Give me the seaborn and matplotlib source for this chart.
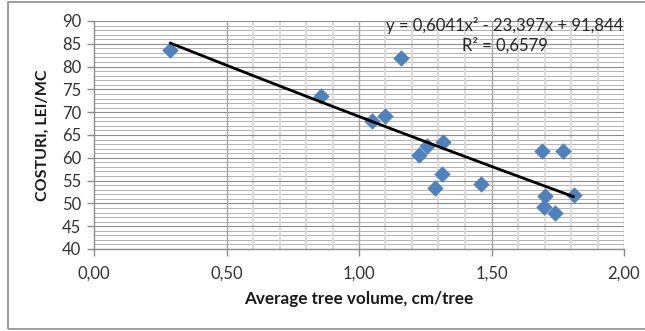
import numpy as np
import pandas as pd
import matplotlib
matplotlib.use("Agg")
import matplotlib.pyplot as plt
import seaborn as sns
from matplotlib.patches import Rectangle

# Data
volume = [0.287, 0.857, 1.158, 1.049, 1.098, 1.256, 1.227, 1.317, 1.690, 1.770,
          1.313, 1.287, 1.460, 1.700, 1.698, 1.740, 1.810]
cost = [83.6, 73.6, 81.9, 68.1, 69.2, 62.6, 60.6, 63.5, 61.5, 61.5,
        56.4, 53.4, 54.3, 51.6, 49.2, 47.9, 51.8]
trend_coef = [0.6041, -23.397, 91.844]
r_squared = "0,6579"
x_ticks = [0.0, 0.5, 1.0, 1.5, 2.0]
x_tick_labels = ["0,00", "0,50", "1,00", "1,50", "2,00"]
y_ticks = [40, 45, 50, 55, 60, 65, 70, 75, 80, 85, 90]

sns.set_theme(style="white")
plt.rcParams['font.family'] = ['Lato', 'DejaVu Sans']

df = pd.DataFrame({"volume": volume, "cost": cost})

fig = plt.figure(figsize=(6.45, 3.31), dpi=100)
ax = fig.add_axes([94/645, 1-249/331, (624-94)/645, (249-21)/331])

# outer chart border
fig.patches.append(Rectangle((8/645, 2/331), 1.0, 327/331, transform=fig.transFigure,
                             fill=False, edgecolor="#8c8c8c", linewidth=1.2, zorder=0))

ax.set_xlim(0, 2.0)
ax.set_ylim(40, 90)

# minor horizontal gridlines
for v in np.arange(40, 91, 1):
    if v % 5 != 0:
        ax.axhline(v, color="#a6a6a6", linewidth=0.6, zorder=1)
# minor vertical gridlines (only from 0.5 onwards, as in the reference)
for v in np.arange(0.6, 2.0, 0.1):
    if abs(v*2 - round(v*2)) > 1e-6:
        ax.axvline(v, color="#d9d9d9", linewidth=1.3, zorder=1)
# major gridlines
for v in y_ticks:
    ax.axhline(v, color="#8c8c8c", linewidth=0.8, zorder=1.5)
for v in x_ticks[1:]:
    ax.axvline(v, color="#a6a6a6", linewidth=1.0, zorder=1.5)

sns.scatterplot(data=df, x="volume", y="cost", marker="D", s=70,
                color="#4F81BD", edgecolor="#4F81BD", linewidth=0, ax=ax, zorder=3)

xs = np.linspace(min(volume), max(volume), 200)
ax.plot(xs, np.polyval(trend_coef, xs), color="black", linewidth=2, zorder=4)

ax.set_xticks(x_ticks)
ax.set_xticklabels(x_tick_labels)
ax.set_yticks(y_ticks)
ax.tick_params(axis="both", which="major", length=5, width=1, color="#8c8c8c",
               labelsize=12, labelcolor="#333333", direction="out", bottom=True, left=True)
ax.tick_params(axis="x", pad=7)
ax.tick_params(axis="y", pad=4)

for s in ["top", "right"]:
    ax.spines[s].set_visible(False)
for s in ["left", "bottom"]:
    ax.spines[s].set_color("#8c8c8c")
    ax.spines[s].set_linewidth(1.0)

ax.set_xlabel("Average tree volume, cm/tree", fontsize=12.3, fontweight="bold",
              color="#1a1a1a", labelpad=7)
ax.set_ylabel("COSTURI, LEI/MC", fontsize=11.5, fontweight="bold", color="#1a1a1a",
              labelpad=9)

eq = "y = 0,6041x\u00b2 - 23,397x + 91,844"
ax.text(1.55, 89.1, eq, ha="center", va="center", fontsize=12, color="#262626", zorder=5)
ax.text(1.55, 84.7, "R\u00b2 = " + r_squared, ha="center", va="center", fontsize=12,
        color="#262626", zorder=5)

fig.savefig("out.png", dpi=100)
